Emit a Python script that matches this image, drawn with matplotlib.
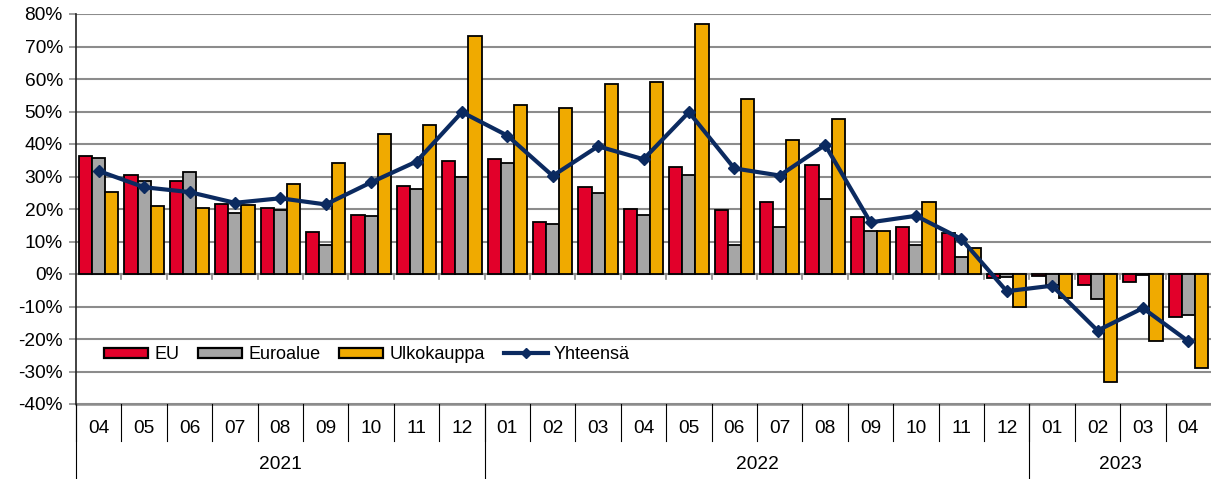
import matplotlib.pyplot as plt
from matplotlib.lines import Line2D
from matplotlib.patches import Patch
import matplotlib.transforms as mtransforms

plt.rcParams['font.family'] = ['Liberation Sans', 'DejaVu Sans']

months = ["04", "05", "06", "07", "08", "09", "10", "11", "12",
          "01", "02", "03", "04", "05", "06", "07", "08", "09", "10", "11", "12",
          "01", "02", "03", "04"]
years = ["2021", "2022", "2023"]
year_counts = [9, 12, 4]

eu = [36.3, 30.4, 28.5, 21.6, 20.2, 13.0, 18.3, 27.2, 34.7,
      35.5, 16.0, 26.7, 20.1, 32.8, 19.8, 22.1, 33.4, 17.6, 14.6, 12.7, -1.1,
      -0.6, -3.5, -2.4, -13.3]
euroalue = [35.7, 28.6, 31.5, 18.7, 19.7, 9.0, 17.7, 26.3, 29.9,
            34.2, 15.3, 25.0, 18.1, 30.4, 9.0, 14.5, 23.2, 13.2, 8.8, 5.3, -0.9,
            -3.4, -7.8, -0.3, -12.6]
ulkokauppa = [25.3, 21.0, 20.2, 21.3, 27.7, 34.1, 43.0, 45.7, 73.2,
              51.9, 51.0, 58.4, 59.0, 77.0, 53.7, 41.1, 47.8, 13.2, 22.1, 8.1, -10.3,
              -7.4, -33.1, -20.6, -29.0]
yhteensa = [31.7, 26.7, 25.2, 21.9, 23.3, 21.4, 28.2, 34.6, 49.8,
            42.6, 30.2, 39.3, 35.3, 49.8, 32.5, 30.3, 39.7, 15.9, 17.9, 10.8, -5.3,
            -3.6, -17.4, -10.5, -20.7]

c_eu = "#e2002a"
c_euro = "#a6a6a6"
c_ulko = "#f0aa00"
c_line = "#0b2a60"
grid_c = "#8c8c8c"

fig = plt.figure(figsize=(12.11, 4.79), dpi=100)
ax = fig.add_axes([76/1211, 1-404/479, 1-76/1211, 390/479])

x = list(range(len(months)))
w = 0.29
ax.bar([i - w for i in x], eu, w, color=c_eu, edgecolor="black", linewidth=1.3, zorder=3)
ax.bar(x, euroalue, w, color=c_euro, edgecolor="black", linewidth=1.3, zorder=3)
ax.bar([i + w for i in x], ulkokauppa, w, color=c_ulko, edgecolor="black", linewidth=1.3, zorder=3)
ax.plot(x, yhteensa, color=c_line, linewidth=3, marker="D", markersize=6, zorder=4)

ax.set_xlim(-0.5, len(months) - 0.5)
ax.set_ylim(-40, 80)
ax.set_yticks(range(-40, 81, 10))
ax.set_yticklabels([f"{v}%" for v in range(-40, 81, 10)], fontsize=13.8)
ax.tick_params(axis="y", length=5, color=grid_c, width=1.2, pad=4.5)
ax.set_xticks([])
ax.grid(axis="y", color=grid_c, linewidth=1.5, zorder=0)
for s in ["top", "right", "bottom"]:
    ax.spines[s].set_visible(False)
ax.spines["left"].set_color("#222222")
ax.spines["left"].set_linewidth(1.2)
ax.axhline(-40, color=grid_c, linewidth=1.8, zorder=1, clip_on=False)
ax.axhline(0, color=grid_c, linewidth=1.5, zorder=2)

# small tick marks on the zero line
for b in range(1, len(months)):
    ax.plot([b - 0.5, b - 0.5], [0, -1.6], color=grid_c, linewidth=1.2, zorder=2)

trans = mtransforms.blended_transform_factory(ax.transData, ax.transAxes)
for i, m in enumerate(months):
    ax.text(i, -0.063, m, transform=trans, ha="center", va="center", fontsize=13.8)
for b in range(0, len(months)):
    ax.plot([b - 0.5, b - 0.5], [0, -0.095], transform=trans, color="black",
            linewidth=0.8, clip_on=False)

start = 0
for yr, cnt in zip(years, year_counts):
    ax.text(start + cnt / 2 - 0.5, -0.155, yr, transform=trans, ha="center",
            va="center", fontsize=13.8)
    ax.plot([start - 0.5, start - 0.5], [0, -0.19], transform=trans, color="black",
            linewidth=0.8, clip_on=False)
    start += cnt

handles = [Patch(facecolor=c_eu, edgecolor="black", linewidth=1.6),
           Patch(facecolor=c_euro, edgecolor="black", linewidth=1.6),
           Patch(facecolor=c_ulko, edgecolor="black", linewidth=1.6),
           Line2D([0], [0], color=c_line, linewidth=3, marker="D", markersize=5)]
ax.legend(handles, ["EU", "Euroalue", "Ulkokauppa", "Yhteensä"], ncol=4,
          loc="center left", bbox_to_anchor=(0.017, 0.126), frameon=False,
          fontsize=13, handlelength=2.44, handleheight=0.55, handletextpad=0.33,
          columnspacing=1.05, borderpad=0)

fig.savefig("out.png", dpi=100)
